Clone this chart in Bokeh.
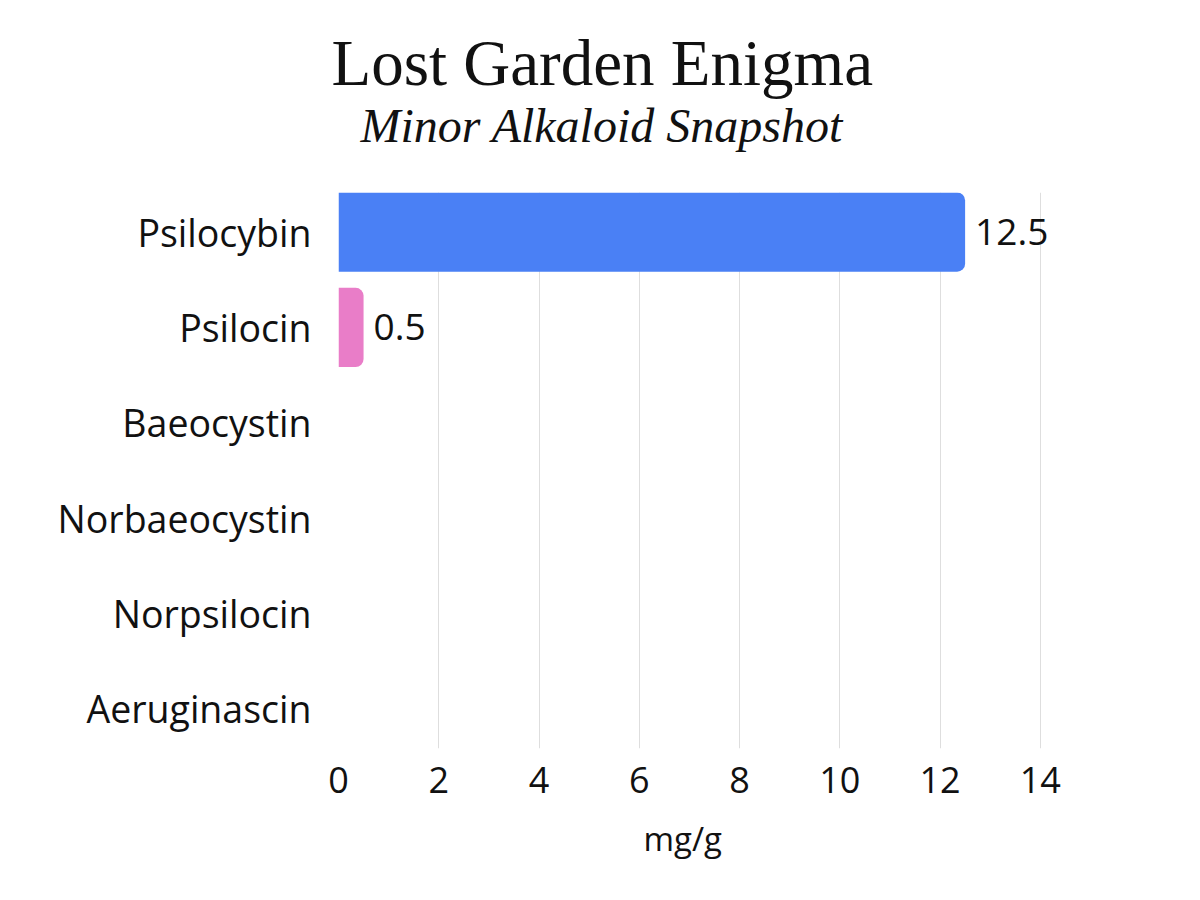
from bokeh.plotting import figure
from bokeh.models import Range1d, FixedTicker, Title, ColumnDataSource
from bokeh.core.properties import value
from bokeh.embed import file_html
from bokeh.resources import INLINE

compounds = ["Psilocybin", "Psilocin", "Baeocystin", "Norbaeocystin", "Norpsilocin", "Aeruginascin"]
amounts = [12.5, 0.5, 0, 0, 0, 0]
bar_colors = ["#4a80f5", "#e97dc8", "#4a80f5", "#4a80f5", "#4a80f5", "#4a80f5"]
x_ticks = [0, 2, 4, 6, 8, 10, 12, 14]

n = len(compounds)
ypos = [n - 1 - i for i in range(n)]

src = ColumnDataSource(dict(y=ypos, v=amounts, c=bar_colors))
lab = ColumnDataSource(dict(
    y=[yy for yy, v in zip(ypos, amounts) if v > 0],
    v=[v for v in amounts if v > 0],
    t=[f"{v:g}" for v in amounts if v > 0],
))

# x range runs a bit past 14 so the value labels are not clipped by the frame
p = figure(width=1192, height=892, output_backend="svg", toolbar_location=None,
           x_range=Range1d(0, 15.5), y_range=Range1d(-0.415, n - 1 + 0.415),
           min_border_left=338, min_border_right=77, min_border_top=192, min_border_bottom=144)
p.outline_line_color = None
p.background_fill_color = "white"
p.border_fill_color = "white"

p.hbar(y="y", right="v", left=0, height=0.83, fill_color="c", line_color=None, source=src,
       border_radius=(0, 8, 8, 0))
p.text(x="v", y="y", text="t", source=lab, x_offset=10, text_align="left",
       text_baseline="middle", text_font=value("Open Sans"), text_font_size="37px",
       text_color="#111111")

p.xaxis.ticker = FixedTicker(ticks=x_ticks)
p.xaxis.major_label_text_font = "Open Sans"
p.xaxis.major_label_text_font_size = "36px"
p.xaxis.major_label_text_color = "#111111"
p.xaxis.major_label_standoff = 18

p.yaxis.ticker = FixedTicker(ticks=ypos)
p.yaxis.major_label_overrides = {yy: name for yy, name in zip(ypos, compounds)}
p.yaxis.major_label_text_font = "Open Sans"
p.yaxis.major_label_text_font_size = "37.5px"
p.yaxis.major_label_text_color = "#111111"
p.yaxis.major_label_standoff = 27

for ax in (p.xaxis, p.yaxis):
    ax.axis_line_color = None
    ax.major_tick_line_color = None
    ax.minor_tick_line_color = None
    ax.major_tick_out = 0
    ax.major_tick_in = 0

p.ygrid.grid_line_color = None
p.xgrid.grid_line_color = "#dedede"
p.xgrid.grid_line_width = 1

# axis title centred under the 0-14 span, not under the widened frame
p.add_layout(Title(text="mg/g", align="left", offset=305, vertical_align="top",
                   text_font="Open Sans", text_font_style="normal",
                   text_font_size="33px", text_color="#111111", standoff=40), "below")

# subtitle first (nearest the frame), then the main title above it
p.add_layout(Title(text="Minor Alkaloid Snapshot", align="left", offset=22,
                   text_font="Liberation Serif", text_font_style="italic",
                   text_font_size="48px", text_color="#111111", standoff=81), "above")
p.add_layout(Title(text="Lost Garden Enigma", align="left", offset=-7,
                   text_font="Liberation Serif", text_font_style="normal",
                   text_font_size="65px", text_color="#111111", standoff=-84), "above")

open("out.html", "w").write(file_html(p, INLINE))
